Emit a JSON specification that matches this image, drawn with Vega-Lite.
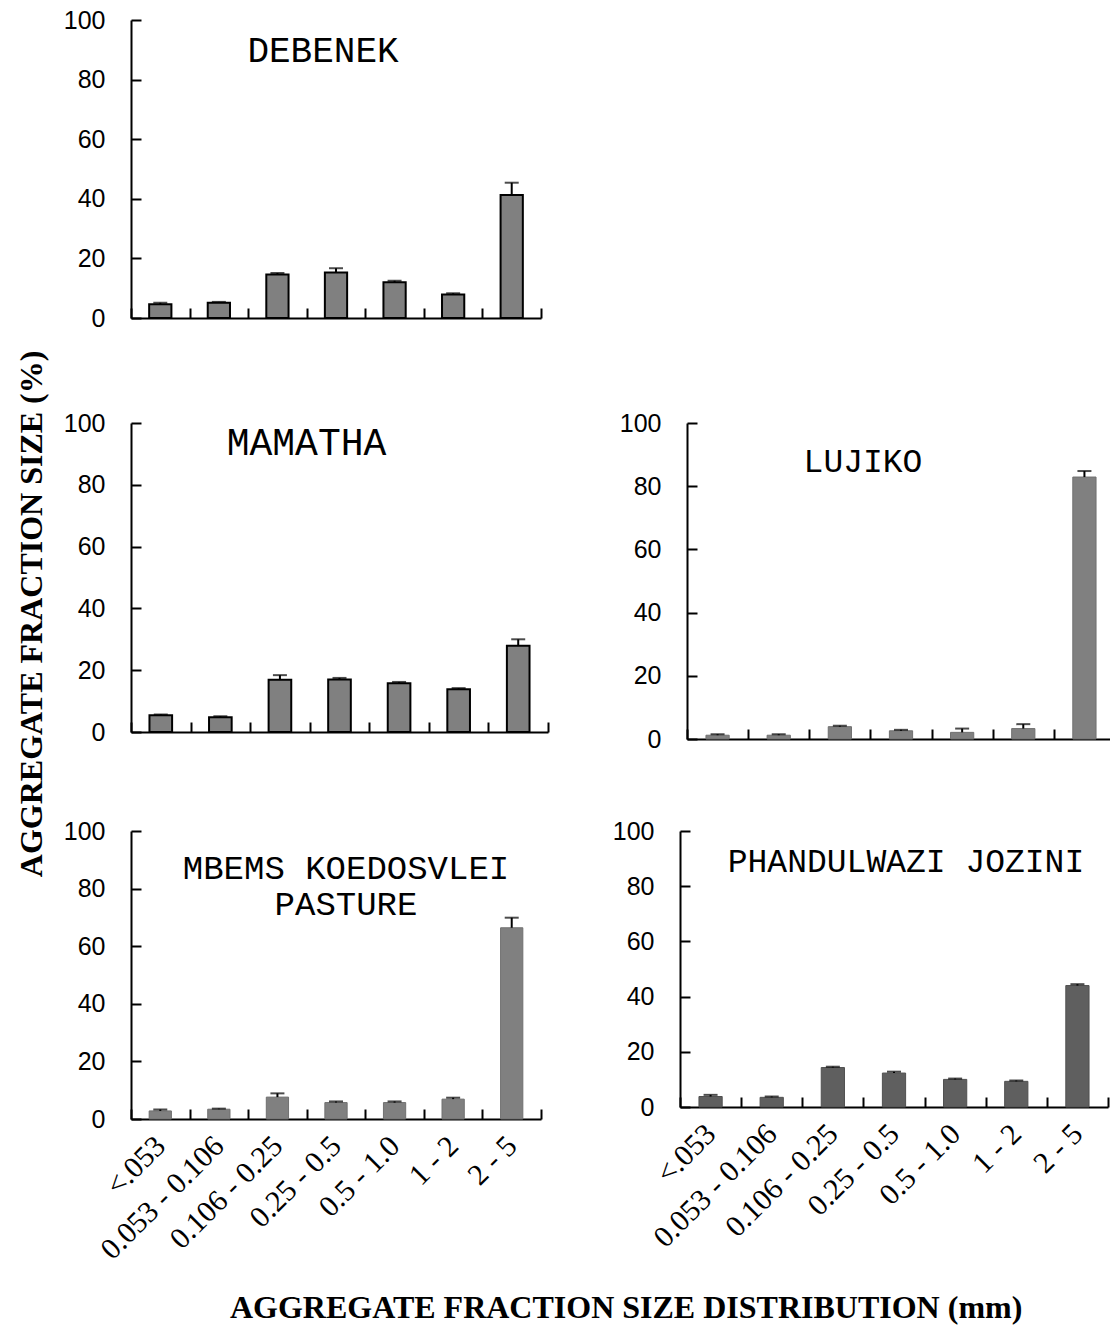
{
  "$schema": "https://vega.github.io/schema/vega-lite/v6.json",
  "background": "white",
  "padding": {"left": 16, "top": 8, "right": 0, "bottom": 2},
  "data": {"values": [
    {"site": "DEBENEK", "fraction": "<.053", "value": 4.6, "upper": 5.1},
    {"site": "DEBENEK", "fraction": "0.053 - 0.106", "value": 5.1, "upper": 5.4},
    {"site": "DEBENEK", "fraction": "0.106 - 0.25", "value": 14.6, "upper": 15.1},
    {"site": "DEBENEK", "fraction": "0.25 - 0.5", "value": 15.3, "upper": 16.7},
    {"site": "DEBENEK", "fraction": "0.5 - 1.0", "value": 12.0, "upper": 12.5},
    {"site": "DEBENEK", "fraction": "1 - 2", "value": 7.9, "upper": 8.3},
    {"site": "DEBENEK", "fraction": "2 - 5", "value": 41.3, "upper": 45.4},
    {"site": "MAMATHA", "fraction": "<.053", "value": 5.4, "upper": 5.7},
    {"site": "MAMATHA", "fraction": "0.053 - 0.106", "value": 4.8, "upper": 5.1},
    {"site": "MAMATHA", "fraction": "0.106 - 0.25", "value": 16.9, "upper": 18.4},
    {"site": "MAMATHA", "fraction": "0.25 - 0.5", "value": 17.0, "upper": 17.5},
    {"site": "MAMATHA", "fraction": "0.5 - 1.0", "value": 15.8, "upper": 16.2},
    {"site": "MAMATHA", "fraction": "1 - 2", "value": 13.8, "upper": 14.2},
    {"site": "MAMATHA", "fraction": "2 - 5", "value": 27.9, "upper": 30.0},
    {"site": "LUJIKO", "fraction": "<.053", "value": 1.2, "upper": 1.5},
    {"site": "LUJIKO", "fraction": "0.053 - 0.106", "value": 1.2, "upper": 1.5},
    {"site": "LUJIKO", "fraction": "0.106 - 0.25", "value": 3.9, "upper": 4.2},
    {"site": "LUJIKO", "fraction": "0.25 - 0.5", "value": 2.6, "upper": 2.9},
    {"site": "LUJIKO", "fraction": "0.5 - 1.0", "value": 2.1, "upper": 3.3},
    {"site": "LUJIKO", "fraction": "1 - 2", "value": 3.3, "upper": 4.7},
    {"site": "LUJIKO", "fraction": "2 - 5", "value": 82.9, "upper": 84.8},
    {"site": "MBEMS KOEDOSVLEI PASTURE", "fraction": "<.053", "value": 2.8, "upper": 3.3},
    {"site": "MBEMS KOEDOSVLEI PASTURE", "fraction": "0.053 - 0.106", "value": 3.4, "upper": 3.6},
    {"site": "MBEMS KOEDOSVLEI PASTURE", "fraction": "0.106 - 0.25", "value": 7.6, "upper": 8.9},
    {"site": "MBEMS KOEDOSVLEI PASTURE", "fraction": "0.25 - 0.5", "value": 5.7, "upper": 6.1},
    {"site": "MBEMS KOEDOSVLEI PASTURE", "fraction": "0.5 - 1.0", "value": 5.7, "upper": 6.1},
    {"site": "MBEMS KOEDOSVLEI PASTURE", "fraction": "1 - 2", "value": 6.9, "upper": 7.4},
    {"site": "MBEMS KOEDOSVLEI PASTURE", "fraction": "2 - 5", "value": 66.4, "upper": 69.9},
    {"site": "PHANDULWAZI JOZINI", "fraction": "<.053", "value": 3.8, "upper": 4.4},
    {"site": "PHANDULWAZI JOZINI", "fraction": "0.053 - 0.106", "value": 3.5, "upper": 3.8},
    {"site": "PHANDULWAZI JOZINI", "fraction": "0.106 - 0.25", "value": 14.3, "upper": 14.6},
    {"site": "PHANDULWAZI JOZINI", "fraction": "0.25 - 0.5", "value": 12.3, "upper": 12.8},
    {"site": "PHANDULWAZI JOZINI", "fraction": "0.5 - 1.0", "value": 10.0, "upper": 10.3},
    {"site": "PHANDULWAZI JOZINI", "fraction": "1 - 2", "value": 9.3, "upper": 9.6},
    {"site": "PHANDULWAZI JOZINI", "fraction": "2 - 5", "value": 44.0, "upper": 44.5}
  ]},
  "title": {"text": "AGGREGATE FRACTION SIZE  (%)", "orient": "left", "anchor": "middle", "font": "Liberation Serif", "fontSize": 32, "fontWeight": "bold", "color": "#000", "offset": 14, "dx": 52},
  "config": {
    "view": {"stroke": null},
    "axis": {"domainColor": "#000", "domainWidth": 2, "tickColor": "#000", "tickWidth": 2, "tickSize": -10, "grid": false, "labelColor": "#000"},
    "axisY": {"labelFont": "Liberation Sans", "labelFontSize": 25, "labelPadding": 36},
    "axisX": {"labelFont": "Liberation Serif", "labelFontSize": 30, "labelAngle": -45, "labelAlign": "right", "labelBaseline": "middle", "tickBand": "extent", "labelPadding": 32},
    "title": {"font": "Liberation Mono", "fontSize": 33, "fontWeight": "normal", "color": "#000", "anchor": "middle", "baseline": "middle"}
  },
  "spacing": 80,
  "vconcat": [
    {
      "width": 410, "height": 298,
      "title": {"text": "DEBENEK", "offset": -62, "dx": -13, "fontSize": 36},
      "transform": [{"filter": "datum.site === 'DEBENEK'"}],
      "encoding": {
        "x": {"field": "fraction", "type": "nominal", "sort": ["<.053", "0.053 - 0.106", "0.106 - 0.25", "0.25 - 0.5", "0.5 - 1.0", "1 - 2", "2 - 5"], "scale": {"paddingInner": 0, "paddingOuter": 0}, "axis": {"labels": false}, "title": null}
      },
      "layer": [
        {"mark": {"type": "bar", "fill": "#808080", "stroke": "#000", "strokeWidth": 2, "width": {"band": 0.38}},
         "encoding": {"y": {"field": "value", "type": "quantitative", "scale": {"domain": [0, 100]}, "axis": {"values": [0, 20, 40, 60, 80, 100]}, "title": null}}},
        {"mark": {"type": "rule", "color": "#000", "strokeWidth": 2},
         "encoding": {"y": {"field": "value", "type": "quantitative"}, "y2": {"field": "upper"}}},
        {"mark": {"type": "tick", "color": "#000", "thickness": 2, "size": 14},
         "encoding": {"y": {"field": "upper", "type": "quantitative"}}}
      ]
    },
    {
      "spacing": 67,
      "vconcat": [
        {
          "spacing": 70,
          "hconcat": [
            {
              "width": 417, "height": 309,
              "title": {"text": "MAMATHA", "offset": -52, "dx": -33, "fontSize": 38},
              "transform": [{"filter": "datum.site === 'MAMATHA'"}],
              "encoding": {
                "x": {"field": "fraction", "type": "nominal", "sort": ["<.053", "0.053 - 0.106", "0.106 - 0.25", "0.25 - 0.5", "0.5 - 1.0", "1 - 2", "2 - 5"], "scale": {"paddingInner": 0, "paddingOuter": 0}, "axis": {"labels": false}, "title": null}
              },
              "layer": [
                {"mark": {"type": "bar", "fill": "#808080", "stroke": "#000", "strokeWidth": 2, "width": {"band": 0.38}},
                 "encoding": {"y": {"field": "value", "type": "quantitative", "scale": {"domain": [0, 100]}, "axis": {"values": [0, 20, 40, 60, 80, 100]}, "title": null}}},
                {"mark": {"type": "rule", "color": "#000", "strokeWidth": 2},
                 "encoding": {"y": {"field": "value", "type": "quantitative"}, "y2": {"field": "upper"}}},
                {"mark": {"type": "tick", "color": "#000", "thickness": 2, "size": 14},
                 "encoding": {"y": {"field": "upper", "type": "quantitative"}}}
              ]
            },
            {
              "width": 428, "height": 316,
              "title": {"text": "LUJIKO", "offset": -68, "dx": -38},
              "transform": [{"filter": "datum.site === 'LUJIKO'"}],
              "encoding": {
                "x": {"field": "fraction", "type": "nominal", "sort": ["<.053", "0.053 - 0.106", "0.106 - 0.25", "0.25 - 0.5", "0.5 - 1.0", "1 - 2", "2 - 5"], "scale": {"paddingInner": 0, "paddingOuter": 0}, "axis": {"labels": false}, "title": null}
              },
              "layer": [
                {"mark": {"type": "bar", "fill": "#808080", "stroke": "#707070", "strokeWidth": 1, "width": {"band": 0.38}},
                 "encoding": {"y": {"field": "value", "type": "quantitative", "scale": {"domain": [0, 100]}, "axis": {"values": [0, 20, 40, 60, 80, 100]}, "title": null}}},
                {"mark": {"type": "rule", "color": "#000", "strokeWidth": 2},
                 "encoding": {"y": {"field": "value", "type": "quantitative"}, "y2": {"field": "upper"}}},
                {"mark": {"type": "tick", "color": "#000", "thickness": 2, "size": 14},
                 "encoding": {"y": {"field": "upper", "type": "quantitative"}}}
              ]
            }
          ]
        },
        {
          "spacing": 70,
          "title": {"text": "AGGREGATE FRACTION SIZE DISTRIBUTION (mm)", "orient": "bottom", "anchor": "middle", "font": "Liberation Serif", "fontSize": 32, "fontWeight": "bold", "color": "#000", "offset": 28, "dx": 40, "baseline": "top"},
          "hconcat": [
            {
              "width": 410, "height": 288,
              "title": {"text": ["MBEMS KOEDOSVLEI", "PASTURE"], "offset": -103, "dx": 10, "fontSize": 34, "lineHeight": 36},
              "transform": [{"filter": "datum.site === 'MBEMS KOEDOSVLEI PASTURE'"}],
              "encoding": {
                "x": {"field": "fraction", "type": "nominal", "sort": ["<.053", "0.053 - 0.106", "0.106 - 0.25", "0.25 - 0.5", "0.5 - 1.0", "1 - 2", "2 - 5"], "scale": {"paddingInner": 0, "paddingOuter": 0}, "title": null}
              },
              "layer": [
                {"mark": {"type": "bar", "fill": "#808080", "stroke": "#707070", "strokeWidth": 1, "width": {"band": 0.38}},
                 "encoding": {"y": {"field": "value", "type": "quantitative", "scale": {"domain": [0, 100]}, "axis": {"values": [0, 20, 40, 60, 80, 100]}, "title": null}}},
                {"mark": {"type": "rule", "color": "#000", "strokeWidth": 2},
                 "encoding": {"y": {"field": "value", "type": "quantitative"}, "y2": {"field": "upper"}}},
                {"mark": {"type": "tick", "color": "#000", "thickness": 2, "size": 14},
                 "encoding": {"y": {"field": "upper", "type": "quantitative"}}}
              ]
            },
            {
              "width": 428, "height": 276,
              "title": {"text": "PHANDULWAZI JOZINI", "offset": -60, "dx": 12},
              "transform": [{"filter": "datum.site === 'PHANDULWAZI JOZINI'"}],
              "encoding": {
                "x": {"field": "fraction", "type": "nominal", "sort": ["<.053", "0.053 - 0.106", "0.106 - 0.25", "0.25 - 0.5", "0.5 - 1.0", "1 - 2", "2 - 5"], "scale": {"paddingInner": 0, "paddingOuter": 0}, "title": null}
              },
              "layer": [
                {"mark": {"type": "bar", "fill": "#5f5f5f", "stroke": "#505050", "strokeWidth": 1, "width": {"band": 0.38}},
                 "encoding": {"y": {"field": "value", "type": "quantitative", "scale": {"domain": [0, 100]}, "axis": {"values": [0, 20, 40, 60, 80, 100]}, "title": null}}},
                {"mark": {"type": "rule", "color": "#000", "strokeWidth": 2},
                 "encoding": {"y": {"field": "value", "type": "quantitative"}, "y2": {"field": "upper"}}},
                {"mark": {"type": "tick", "color": "#000", "thickness": 2, "size": 14},
                 "encoding": {"y": {"field": "upper", "type": "quantitative"}}}
              ]
            }
          ]
        }
      ]
    }
  ]
}
